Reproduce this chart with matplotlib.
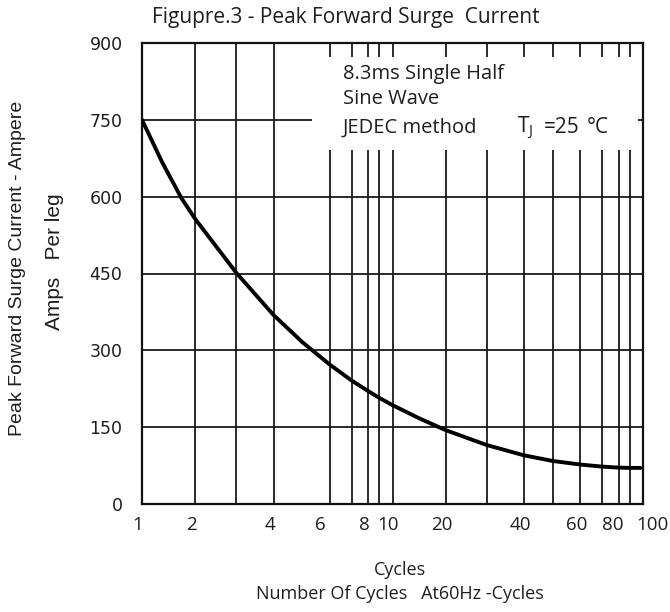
import numpy as np
import matplotlib
matplotlib.use('Agg')
import matplotlib.pyplot as plt
import matplotlib.transforms as mtransforms
from matplotlib.patches import Rectangle
from matplotlib.ticker import FixedLocator, NullFormatter

# --- data ---
cycles = [1, 1.3, 1.67, 2, 3, 4, 5, 6, 7, 8, 9, 10, 14, 20, 30, 40, 50, 60, 70, 80, 90, 98]
amps = [750, 667, 597, 556, 451, 369, 316, 272, 241, 220, 207, 193, 168, 144, 115, 95, 84, 77, 73, 71, 70.5, 70.5]

x_tick_vals = [1, 2, 4, 6, 8, 10, 20, 40, 60, 80, 100]
x_tick_labels = ['1', '2', '4', '6', '8', '10', '20', '40', '60', '80', '100']
x_grid_vals = [1, 2, 3, 4, 6, 7, 8, 9, 10, 20, 30, 40, 50, 60, 70, 80, 90, 100]
y_tick_vals = [0, 150, 300, 450, 600, 750, 900]

# the printed log paper is not a true log scale: decade fraction for each mantissa
MANT = np.log10([1, 2, 3, 4, 5, 6, 7, 8, 9, 10])
FRAC = np.array([0, .213, .377, .525, .64, .75, .837, .904, .948, 1.0])


def fwd(x):
    lx = np.log10(np.clip(np.asarray(x, dtype=float), 1e-10, None))
    dec = np.floor(lx)
    return dec + np.interp(lx - dec, MANT, FRAC)


def inv(y):
    y = np.asarray(y, dtype=float)
    dec = np.floor(y)
    return 10 ** (dec + np.interp(y - dec, FRAC, MANT))


plt.rcParams['mathtext.fontset'] = 'custom'
plt.rcParams['mathtext.rm'] = 'Open Sans'

INK = '#1e1e1e'
W, H = 670, 612
fig = plt.figure(figsize=(W / 100, H / 100), dpi=100)
ax = fig.add_axes([142 / W, (H - 504) / H, 501 / W, 461 / H])

ax.set_xscale('function', functions=(fwd, inv))
ax.set_xlim(1, 100)
ax.set_ylim(0, 900)

ax.xaxis.set_major_locator(FixedLocator(x_grid_vals))
ax.xaxis.set_major_formatter(NullFormatter())
ax.xaxis.set_minor_locator(FixedLocator([]))
ax.set_yticks(y_tick_vals)
ax.grid(True, color='#1a1a1a', lw=1.3)
ax.tick_params(length=0)
ax.tick_params(axis='y', pad=14, labelsize=12.5, labelcolor=INK)
for lab in ax.get_yticklabels():
    lab.set_family('DejaVu Sans')

# x labels drawn as text at the tick values (the printed labels sit a bit off their lines)
nudge = {6: -10, 80: -6, 100: 9}
for v, t in zip(x_tick_vals, x_tick_labels):
    off = mtransforms.offset_copy(ax.get_xaxis_transform(), fig=fig,
                                  x=nudge.get(v, -4), y=0, units='dots')
    ax.text(v, -0.045, t, transform=off, ha='center', va='center',
            fontsize=13.5, family='Open Sans', color=INK)

for s in ax.spines.values():
    s.set_linewidth(1.6)
    s.set_color('#111111')

ax.plot(cycles, amps, color='black', lw=2.8, solid_capstyle='round',
        solid_joinstyle='round', zorder=3)

# white box holding the test conditions
ax.add_patch(Rectangle((0.339, 0.768), 0.651, 0.202, transform=ax.transAxes,
                       facecolor='white', edgecolor='none', zorder=2))
txt = dict(transform=ax.transAxes, fontsize=14.5, family='Open Sans', color=INK,
           zorder=4, va='baseline')
ax.text(0.401, 0.922, '8.3ms Single Half', **txt)
ax.text(0.401, 0.868, 'Sine Wave', **txt)
ax.text(0.401, 0.805, 'JEDEC method', **txt)
tj = dict(txt, fontsize=15)
ax.text(0.749, 0.805, r'T$_\mathrm{J}$', **tj)
ax.text(0.802, 0.805, '=25', **tj)
ax.text(0.888, 0.805, '°C', **tj)

fig.text(346 / W, 1 - 17 / H, 'Figupre.3 - Peak Forward Surge  Current', ha='center', va='center',
         fontsize=15, family='Open Sans', color=INK)
fig.text(400 / W, 1 - 570 / H, 'Cycles', ha='center', va='center',
         fontsize=13, family='Open Sans', color=INK)
fig.text(400 / W, 1 - 594 / H, 'Number Of Cycles   At60Hz -Cycles', ha='center', va='center',
         fontsize=13, family='Open Sans', color=INK)
fig.text(18 / W, 1 - 268 / H, 'Peak Forward Surge Current - Ampere', rotation=90,
         ha='center', va='center', fontsize=14, family='Liberation Sans', color=INK)
fig.text(55 / W, 1 - 262 / H, 'Amps   Per leg', rotation=90,
         ha='center', va='center', fontsize=15, family='Liberation Sans', color=INK)

fig.savefig('out.png', dpi=100)
